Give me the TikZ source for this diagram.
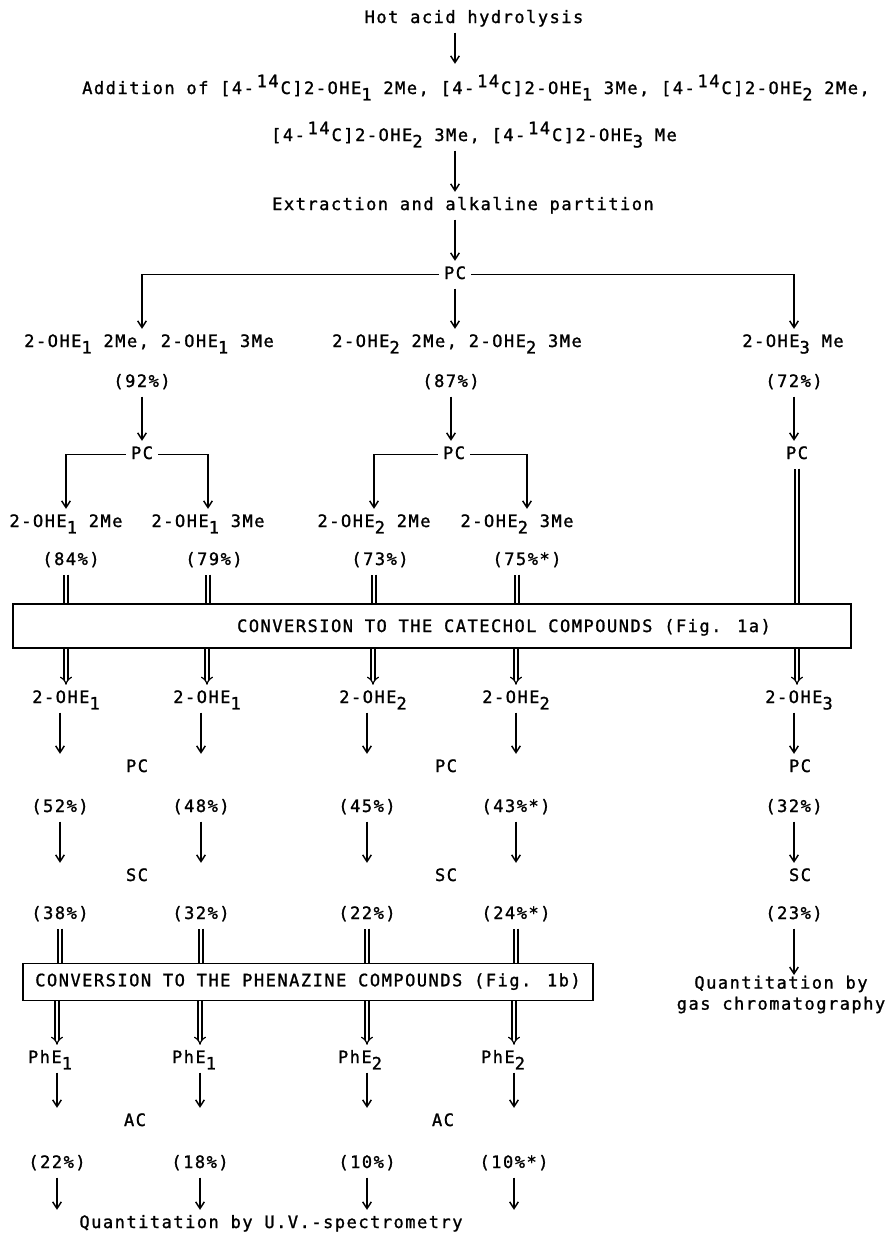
\documentclass[tikz,border=0pt]{standalone}
\usepackage{fontspec}
\usepackage{tikz}
\usetikzlibrary{arrows.meta}
\newfontfamily\typer[LetterSpace=8.6, FakeBold=1.2]{DejaVu Sans Mono}
\newcommand{\lo}[1]{\raisebox{-0.38em}{#1}}
\newcommand{\hi}[1]{\kern2pt\raisebox{0.4em}{#1}\kern1.5pt\relax}

\begin{document}
\begin{tikzpicture}[x = 0.75pt, y = -0.75pt, line width = 1pt,
    txt/.style = {anchor = base, inner sep = 3.5pt, text height = 9.6pt, text depth = 3.2pt,
                  font = \typer\fontsize{12.8pt}{15pt}\selectfont},
    arr/.style = {line width = 1.1pt, -{Straight Barb[length = 5pt, width = 6.5pt]}},
    dline/.style = {double, line width = 0.9pt, double distance = 2.2pt},
    dbl/.style = {dline, -{Implies}},
    frame/.style = {draw, line width = 1.3pt}]
  \useasboundingbox (0, 0) rectangle (892, 1235);
  % first steps
  \node [txt] (hot) at (474, 23) {Hot acid hydrolysis};
  \node [txt] (add1) at (476, 94) {Addition of [4-\hi{14}C]2-OHE\lo{1} 2Me, [4-\hi{14}C]2-OHE\lo{1} 3Me, [4-\hi{14}C]2-OHE\lo{2} 2Me,};
  \node [txt] (add2) at (474, 141) {[4-\hi{14}C]2-OHE\lo{2} 3Me, [4-\hi{14}C]2-OHE\lo{3} Me};
  \node [txt] (ext) at (463, 210) {Extraction and alkaline partition};
  \node [txt] (pc0) at (455, 279) {PC};
  \draw [arr, shorten > = 9pt] (hot.south -| pc0) -- (add1.north -| pc0);
  \draw [arr] (add2.south -| pc0) -- (ext.north -| pc0);
  \draw [arr] (ext.south -| pc0) -- (pc0.north);
  % mixtures
  \node [txt] (m1) at (149, 347) {2-OHE\lo{1} 2Me, 2-OHE\lo{1} 3Me};
  \node [txt] (m2) at (457, 347) {2-OHE\lo{2} 2Me, 2-OHE\lo{2} 3Me};
  \node [txt] (m3) at (793, 347) {2-OHE\lo{3} Me};
  \node [txt] (y1) at (142, 387) {(92\%)};
  \node [txt] (y2) at (451, 387) {(87\%)};
  \node [txt] (y3) at (794, 387) {(72\%)};
  \node [txt] (pc1) at (142, 459) {PC};
  \node [txt] (pc2) at (454, 459) {PC};
  \node [txt] (pc3) at (797, 459) {PC};
  \draw [arr] (pc0.west) -| (m1.north -| y1);
  \draw [arr] (pc0.south) -- (m2.north -| pc0);
  \draw [arr] (pc0.east) -| (m3.north -| y3);
  \draw [arr] (y1.south) -- (pc1.north);
  \draw [arr] (y2.south) -- (y2.south |- pc2.north);
  \draw [arr] (y3.south) -- (y3.south |- pc3.north);
  % single compounds
  \node [txt] (s1) at (66, 527) {2-OHE\lo{1} 2Me};
  \node [txt] (s2) at (208, 527) {2-OHE\lo{1} 3Me};
  \node [txt] (s3) at (374, 527) {2-OHE\lo{2} 2Me};
  \node [txt] (s4) at (517, 527) {2-OHE\lo{2} 3Me};
  \node [txt] (z1) at (71, 565) {(84\%)};
  \node [txt] (z2) at (214, 565) {(79\%)};
  \node [txt] (z3) at (380, 565) {(73\%)};
  \node [txt] (z4) at (527, 565) {(75\%*)};
  \draw [arr] (pc1.west) -| (s1.north);
  \draw [arr] (pc1.east) -| (s2.north);
  \draw [arr] (pc2.west) -| (s3.north);
  \draw [arr] (pc2.east) -| (s4.north -| z4);
  % catechol step
  \node [frame, minimum width = 628.5pt, minimum height = 33pt] (cat) at (432, 626) {};
  \node [txt] (cattxt) at (504, 632) {CONVERSION TO THE CATECHOL COMPOUNDS (Fig. 1a)};
  \draw [dline] (z1.south -| s1) -- (cat.north -| s1);
  \draw [dline] (z2.south -| s2) -- (cat.north -| s2);
  \draw [dline] (z3.south -| s3) -- (cat.north -| s3);
  \draw [dline] (z4.south -| s4) -- (cat.north -| s4);
  \draw [dline] (pc3.south) -- (cat.north -| pc3);
  \node [txt] (c1) at (66, 703) {2-OHE\lo{1}};
  \node [txt] (c2) at (207, 703) {2-OHE\lo{1}};
  \node [txt] (c3) at (373, 703) {2-OHE\lo{2}};
  \node [txt] (c4) at (516, 703) {2-OHE\lo{2}};
  \node [txt] (c5) at (799, 703) {2-OHE\lo{3}};
  \draw [dbl] (cat.south -| c1) -- (c1.north);
  \draw [dbl] (cat.south -| c2) -- (c2.north);
  \draw [dbl] (cat.south -| c3) -- (c3.north);
  \draw [dbl] (cat.south -| c4) -- (c4.north);
  \draw [dbl] (cat.south -| pc3) -- (c5.north -| pc3);
  % purification
  \node [txt] (pcl) at (137, 772) {PC};
  \node [txt] (pcm) at (446, 772) {PC};
  \node [txt] (pcr) at (800, 772) {PC};
  \node [txt] (q1) at (60, 812) {(52\%)};
  \node [txt] (q2) at (201, 812) {(48\%)};
  \node [txt] (q3) at (367, 812) {(45\%)};
  \node [txt] (q4) at (516, 812) {(43\%*)};
  \node [txt] (q5) at (794, 812) {(32\%)};
  \draw [arr] (q1.north |- c1.south) -- (q1.north |- pcl.north);
  \draw [arr] (q2.north |- c2.south) -- (q2.north |- pcl.north);
  \draw [arr] (q3.north |- c3.south) -- (q3.north |- pcl.north);
  \draw [arr] (q4.north |- c4.south) -- (q4.north |- pcl.north);
  \draw [arr] (q5.north |- c5.south) -- (q5.north |- pcr.north);
  \node [txt] (scl) at (137, 881) {SC};
  \node [txt] (scm) at (446, 881) {SC};
  \node [txt] (scr) at (800, 881) {SC};
  \node [txt] (w1) at (60, 919) {(38\%)};
  \node [txt] (w2) at (201, 919) {(32\%)};
  \node [txt] (w3) at (367, 919) {(22\%)};
  \node [txt] (w4) at (516, 919) {(24\%*)};
  \node [txt] (w5) at (794, 919) {(23\%)};
  \draw [arr] (q1.south) -- (q1.south |- scl.north);
  \draw [arr] (q2.south) -- (q2.south |- scl.north);
  \draw [arr] (q3.south) -- (q3.south |- scl.north);
  \draw [arr] (q4.south) -- (q4.south |- scl.north);
  \draw [arr] (q5.south) -- (q5.south |- scr.north);
  % gas chromatography
  \node [anchor = north, inner sep = 0pt, align = center, font = \typer\fontsize{12.8pt}{15.75pt}\selectfont]
        (gas) at (781, 975) {Quantitation by\\gas chromatography};
  \draw [arr] (w5.south) -- (w5.south |- gas.north);
  % phenazine step
  \node [frame, txt, anchor = center, minimum width = 428pt, minimum height = 27.75pt] (phz) at (308, 982)
        {CONVERSION TO THE PHENAZINE COMPOUNDS (Fig. 1b)};
  \draw [dline] (w1.south) -- (phz.north -| w1);
  \draw [dline] (w2.south) -- (phz.north -| w2);
  \draw [dline] (w3.south) -- (phz.north -| w3);
  \draw [dline] (w4.south) -- (phz.north -| w4);
  \node [txt] (f1) at (50, 1063) {PhE\lo{1}};
  \node [txt] (f2) at (194, 1063) {PhE\lo{1}};
  \node [txt] (f3) at (360, 1063) {PhE\lo{2}};
  \node [txt] (f4) at (503, 1063) {PhE\lo{2}};
  \node [txt] (acl) at (135, 1126) {AC};
  \node [txt] (acm) at (443, 1126) {AC};
  \node [txt] (v1) at (57, 1168) {(22\%)};
  \node [txt] (v2) at (200, 1168) {(18\%)};
  \node [txt] (v3) at (367, 1168) {(10\%)};
  \node [txt] (v4) at (514, 1168) {(10\%*)};
  \draw [dbl] (phz.south -| v1) -- (v1 |- f1.north);
  \draw [dbl] (phz.south -| v2) -- (v2 |- f2.north);
  \draw [dbl] (phz.south -| v3) -- (v3 |- f3.north);
  \draw [dbl] (phz.south -| v4) -- (v4 |- f4.north);
  \draw [arr] (v1 |- f1.south) -- (v1 |- acl.north);
  \draw [arr] (v2 |- f2.south) -- (v2 |- acl.north);
  \draw [arr] (v3 |- f3.south) -- (v3 |- acl.north);
  \draw [arr] (v4 |- f4.south) -- (v4 |- acl.north);
  \node [txt] (uv) at (271, 1228) {Quantitation by U.V.-spectrometry};
  \draw [arr] (v1.south) -- (v1.south |- uv.north);
  \draw [arr] (v2.south) -- (v2.south |- uv.north);
  \draw [arr] (v3.south) -- (v3.south |- uv.north);
  \draw [arr] (v4.south) -- (v4.south |- uv.north);
\end{tikzpicture}
\end{document}
